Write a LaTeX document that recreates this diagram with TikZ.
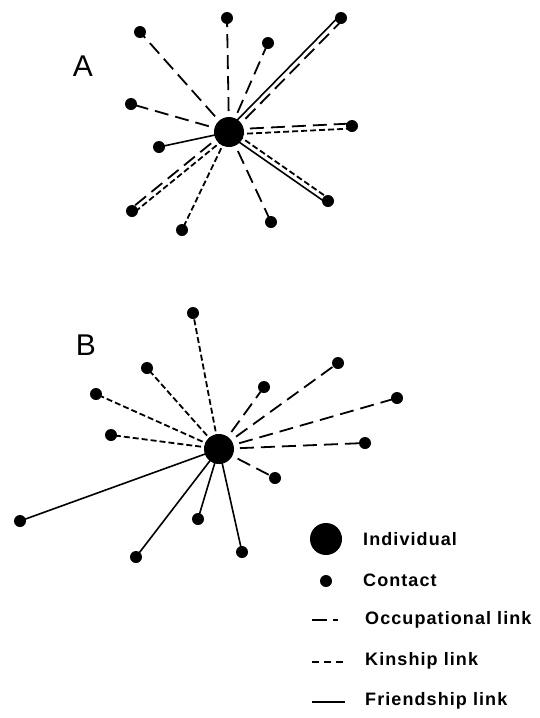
\documentclass[tikz,border=0pt]{standalone}
\usepackage{fontspec}
\setmainfont{Liberation Sans}
\newfontfamily\lfont[LetterSpace=6]{Liberation Sans}
\usetikzlibrary{calc}
\begin{document}
\begin{tikzpicture}[x=1pt,y=-1pt,
  ind/.style={circle,fill=black,inner sep=0pt,minimum size=30pt},
  con/.style={circle,fill=black,inner sep=0pt,minimum size=12pt},
  occ/.style={line width=1.8pt,dash pattern=on 14pt off 7pt},
  kin/.style={line width=1.8pt,dash pattern=on 6pt off 3pt},
  fri/.style={line width=1.6pt},
  big/.style={font=\fontsize{30}{32}\selectfont, inner sep=0pt},
  lbl/.style={font=\lfont\bfseries\fontsize{18}{20}\selectfont, anchor=west, inner sep=0pt}]
\useasboundingbox[fill=white] (0,0) rectangle (540,718);

% ---------- A ----------
\node[big] (la) at (83,66) {A};
\node[ind] (ca) at (229,132) {};
\node[con] (a1) at (140,32) {};
\node[con] (a2) at (227,18) {};
\node[con] (a3) at (268,43) {};
\node[con] (a4) at (341,18) {};
\node[con] (a5) at (131,104) {};
\node[con] (a6) at (352,126) {};
\node[con] (a7) at (159,147) {};
\node[con] (a8) at (132,211) {};
\node[con] (a9) at (182,230) {};
\node[con] (a10) at (271,222) {};
\node[con] (a11) at (328,201) {};

\draw[occ] (ca.center) -- (a1.center);
\draw[occ] (ca.center) -- (a2.center);
\draw[occ] (ca.center) -- (a3.center);
\draw[fri] ($(ca.center)!2.5pt!90:(a4.center)$) -- ($(a4.center)!2.5pt!-90:(ca.center)$);
\draw[occ] ($(ca.center)!2.5pt!-90:(a4.center)$) -- ($(a4.center)!2.5pt!90:(ca.center)$);
\draw[occ] (ca.center) -- (a5.center);
\draw[kin] ($(ca.center)!2.5pt!-90:(a6.center)$) -- ($(a6.center)!2.5pt!90:(ca.center)$);
\draw[occ] ($(ca.center)!2.5pt!90:(a6.center)$) -- ($(a6.center)!2.5pt!-90:(ca.center)$);
\draw[fri] (ca.center) -- (a7.center);
\draw[kin] ($(ca.center)!2.5pt!90:(a8.center)$) -- ($(a8.center)!2.5pt!-90:(ca.center)$);
\draw[occ] ($(ca.center)!2.5pt!-90:(a8.center)$) -- ($(a8.center)!2.5pt!90:(ca.center)$);
\draw[kin] (ca.center) -- (a9.center);
\draw[occ] (ca.center) -- (a10.center);
\draw[fri] ($(ca.center)!2.5pt!-90:(a11.center)$) -- ($(a11.center)!2.5pt!90:(ca.center)$);
\draw[kin] ($(ca.center)!2.5pt!90:(a11.center)$) -- ($(a11.center)!2.5pt!-90:(ca.center)$);

% ---------- B ----------
\node[big] (lb) at (86,345) {B};
\node[ind] (cb) at (219,449) {};
\node[con] (b1) at (193,313) {};
\node[con] (b2) at (147,368) {};
\node[con] (b3) at (96,394) {};
\node[con] (b4) at (111,435) {};
\node[con] (b5) at (338,363) {};
\node[con] (b6) at (264,387) {};
\node[con] (b7) at (397,398) {};
\node[con] (b8) at (365,443) {};
\node[con] (b9) at (275,478) {};
\node[con] (b10) at (20,521) {};
\node[con] (b11) at (198,519) {};
\node[con] (b12) at (136,557) {};
\node[con] (b13) at (242,552) {};

\draw[kin] (cb.center) -- (b1.center);
\draw[kin] (cb.center) -- (b2.center);
\draw[kin] (cb.center) -- (b3.center);
\draw[kin] (cb.center) -- (b4.center);
\draw[occ] (cb.center) -- (b5.center);
\draw[occ] (cb.center) -- (b6.center);
\draw[occ] (cb.center) -- (b7.center);
\draw[occ] (cb.center) -- (b8.center);
\draw[occ] (cb.center) -- (b9.center);
\draw[fri] (cb.center) -- (b10.center);
\draw[fri] (cb.center) -- (b11.center);
\draw[fri] (cb.center) -- (b12.center);
\draw[fri] (cb.center) -- (b13.center);

% ---------- legend ----------
\node[ind,minimum size=32pt] (li) at (326,539) {};
\node[lbl] (ti) at (363,539) {Individual};
\node[con] (lc) at (326,581) {};
\node[lbl] (tc) at (363,580) {Contact};
\coordinate (o1) at (312,620);
\coordinate (o2) at (338,620);
\draw[occ,dash pattern=on 15pt off 6pt] (o1) -- (o2);
\node[lbl] (to) at (365,620) {Occupational link};
\coordinate (k1) at (312,662);
\coordinate (k2) at (343,662);
\draw[kin,dash pattern=on 7pt off 5pt] (k1) -- (k2);
\node[lbl] (tk) at (365,661) {Kinship link};
\coordinate (f1) at (312,702);
\coordinate (f2) at (345,702);
\draw[fri] (f1) -- (f2);
\node[lbl] (tf) at (365,701) {Friendship link};
\end{tikzpicture}
\end{document}
